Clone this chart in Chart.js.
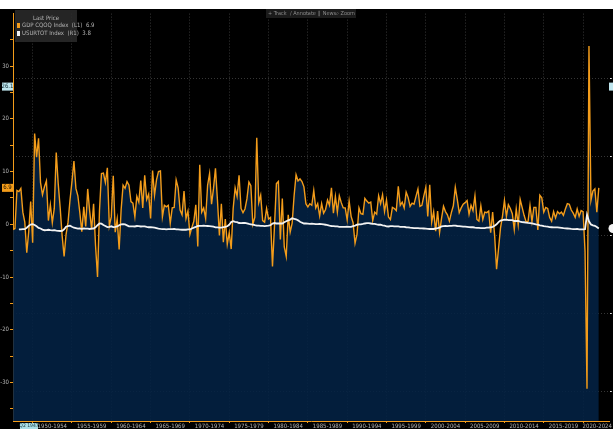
<!DOCTYPE html>
<html>
<head>
<meta charset="utf-8">
<script src="https://cdn.jsdelivr.net/npm/chart.js@4.4.1/dist/chart.umd.min.js"></script>
<style>
  html, body { margin: 0; padding: 0; background: #fff; }
  #wrap { position: absolute; left: 0; top: 9px; width: 613px; height: 420px; background: #000; }
</style>
</head>
<body>
<div id="wrap"><canvas id="gdpChart" width="613" height="420"></canvas></div>
<script>
// US real GDP, QoQ annualised %, one row per year (1947 starts at Q2)
const gdpStart = '1947Q2';
const gdpQoQ = [
    -1.0, -0.8, 6.4,
    6.2, 6.8, 2.3, 0.4,
    -5.4, -1.4, 4.3, -3.5,
    17.2, 12.7, 16.3, 7.9,
    5.6, 7.1, 8.2, 0.7,
    3.7, 0.3, 3.0, 13.6,
    7.7, 3.1, -2.2, -6.1,
    -1.9, 0.4, 4.6, 8.1,
    12.0, 6.8, 5.4, 2.2,
    -1.4, 3.3, -0.4, 6.7,
    2.5, -1.0, 3.9, -4.1,
    -10.0, 2.6, 9.6, 9.7,
    7.9, 10.7, -0.3, 1.4,
    9.2, -1.5, 1.0, -4.8,
    2.7, 7.4, 6.8, 8.1,
    7.4, 4.3, 4.0, 1.4,
    5.3, 4.2, 8.3, 3.1,
    9.3, 4.7, 5.7, 1.1,
    10.2, 5.5, 8.4, 10.0,
    10.1, 1.4, 3.6, 3.3,
    3.6, 0.2, 3.1, 3.2,
    8.4, 6.9, 2.7, 1.8,
    6.3, 1.1, 2.5, -1.9,
    -0.6, 0.6, 3.7, -4.2,
    11.3, 2.3, 3.1, 1.1,
    7.4, 9.6, 3.8, 6.8,
    10.6, 4.6, -2.1, 3.9,
    -3.4, 1.0, -3.8, -1.6,
    -4.7, 3.0, 6.9, 5.3,
    9.3, 3.0, 2.2, 2.9,
    4.8, 8.0, 7.3, 0.0,
    1.3, 16.4, 4.1, 5.5,
    0.7, 0.4, 3.0, 1.0,
    1.3, -8.0, -0.5, 7.7,
    8.1, -2.9, 4.9, -4.3,
    -6.1, 1.8, -1.5, 0.2,
    5.4, 9.4, 8.2, 8.6,
    8.1, 7.1, 3.9, 3.3,
    3.9, 3.6, 6.4, 3.1,
    3.9, 1.6, 3.9, 2.1,
    2.8, 4.6, 3.6, 6.9,
    2.1, 5.3, 2.3, 5.4,
    4.1, 3.1, 3.1, 0.8,
    4.4, 1.5, 0.3, -3.6,
    -1.9, 3.1, 2.0, 1.9,
    4.9, 4.4, 4.0, 4.2,
    0.7, 2.3, 1.9, 5.4,
    3.9, 5.6, 2.4, 4.6,
    1.4, 0.9, 3.2, 3.0,
    2.6, 7.2, 3.6, 4.2,
    3.1, 6.1, 5.1, 3.4,
    4.0, 3.8, 5.3, 6.7,
    3.4, 3.6, 5.4, 7.0,
    1.5, 7.5, 0.4, 2.4,
    -1.3, 2.5, -1.6, 1.1,
    3.4, 2.4, 1.8, 0.6,
    2.2, 3.5, 7.0, 4.7,
    2.2, 3.1, 3.8, 4.1,
    4.5, 1.9, 3.6, 2.6,
    5.4, 0.9, 0.6, 3.5,
    0.9, 2.3, 2.2, 2.5,
    -1.6, 2.3, -2.1, -8.5,
    -4.6, -0.7, 1.5, 4.5,
    1.5, 3.7, 3.0, 2.0,
    -1.0, 2.9, -0.1, 4.7,
    3.2, 1.7, 0.5, 0.5,
    3.6, 0.5, 3.2, 3.2,
    -1.1, 5.5, 5.0, 2.3,
    3.2, 3.0, 1.3, 0.6,
    2.4, 1.2, 2.4, 2.0,
    2.3, 1.7, 2.9, 3.9,
    3.8, 2.7, 2.1, 1.3,
    2.9, 1.5, 2.6, 2.4,
    -5.1, -31.2, 33.8, 4.5,
    6.3, 6.7, 2.3, 6.9
];

// US unemployment rate, quarterly average %, from 1948 Q1
const unempStart = '1948Q1';
const unempRate = [
    3.7, 3.7, 3.8, 3.8,
    4.7, 5.9, 6.7, 7.0,
    6.4, 5.6, 4.6, 4.2,
    3.5, 3.1, 3.2, 3.4,
    3.1, 3.0, 3.2, 2.8,
    2.7, 2.6, 2.7, 3.7,
    5.3, 5.8, 6.0, 5.3,
    4.7, 4.4, 4.1, 4.2,
    4.0, 4.2, 4.1, 4.1,
    3.9, 4.1, 4.2, 4.9,
    6.3, 7.4, 7.3, 6.4,
    5.8, 5.1, 5.3, 5.6,
    5.1, 5.2, 5.5, 6.3,
    6.8, 7.0, 6.8, 6.2,
    5.6, 5.5, 5.6, 5.5,
    5.8, 5.7, 5.5, 5.6,
    5.5, 5.2, 5.0, 5.0,
    4.9, 4.7, 4.4, 4.1,
    3.9, 3.8, 3.8, 3.7,
    3.8, 3.8, 3.8, 3.9,
    3.7, 3.6, 3.5, 3.4,
    3.4, 3.4, 3.6, 3.6,
    4.2, 4.8, 5.2, 5.8,
    5.9, 5.9, 6.0, 5.9,
    5.8, 5.7, 5.6, 5.4,
    4.9, 4.9, 4.8, 4.8,
    5.1, 5.2, 5.6, 6.6,
    8.3, 8.9, 8.5, 8.3,
    7.7, 7.6, 7.7, 7.8,
    7.5, 7.1, 6.9, 6.7,
    6.3, 6.0, 6.0, 5.9,
    5.9, 5.7, 5.9, 6.0,
    6.3, 7.3, 7.7, 7.4,
    7.4, 7.4, 7.4, 8.2,
    8.8, 9.4, 9.9, 10.7,
    10.4, 10.1, 9.4, 8.5,
    7.9, 7.4, 7.4, 7.3,
    7.2, 7.3, 7.2, 7.0,
    7.0, 7.2, 7.0, 6.8,
    6.6, 6.3, 6.0, 5.8,
    5.7, 5.5, 5.5, 5.3,
    5.2, 5.2, 5.2, 5.4,
    5.3, 5.3, 5.7, 6.1,
    6.6, 6.8, 6.9, 7.1,
    7.4, 7.6, 7.6, 7.4,
    7.2, 7.1, 6.8, 6.6,
    6.6, 6.2, 6.0, 5.6,
    5.5, 5.7, 5.7, 5.6,
    5.5, 5.5, 5.3, 5.3,
    5.2, 5.0, 4.9, 4.7,
    4.6, 4.4, 4.5, 4.4,
    4.3, 4.3, 4.2, 4.1,
    4.0, 3.9, 4.0, 3.9,
    4.2, 4.4, 4.8, 5.5,
    5.7, 5.8, 5.7, 5.9,
    5.9, 6.1, 6.1, 5.8,
    5.7, 5.6, 5.4, 5.4,
    5.3, 5.1, 5.0, 5.0,
    4.7, 4.6, 4.6, 4.4,
    4.5, 4.5, 4.7, 4.8,
    5.0, 5.3, 6.0, 6.9,
    8.3, 9.3, 9.6, 9.9,
    9.8, 9.6, 9.5, 9.5,
    9.0, 9.1, 9.0, 8.6,
    8.3, 8.2, 8.0, 7.8,
    7.7, 7.5, 7.2, 6.9,
    6.7, 6.2, 6.1, 5.7,
    5.5, 5.4, 5.1, 5.0,
    4.9, 4.9, 4.9, 4.8,
    4.6, 4.4, 4.3, 4.2,
    4.1, 3.9, 3.8, 3.8,
    3.9, 3.6, 3.6, 3.6,
    3.8, 13.0, 8.8, 6.8,
    6.2, 5.9, 5.1, 4.2
];

const periodTicks = [1950, 1955, 1960, 1965, 1970, 1975, 1980, 1985, 1990, 1995, 2000, 2005, 2010, 2015, 2020];
const periodLabels = ['1950-1954', '1955-1959', '1960-1964', '1965-1969', '1970-1974', '1975-1979', '1980-1984',
    '1985-1989', '1990-1994', '1995-1999', '2000-2004', '2005-2009', '2010-2014', '2015-2019', '2020-2024'];
const periodLabelAt = [1952.5, 1957.5, 1962.5, 1967.5, 1972.5, 1977.5, 1982.5,
    1987.5, 1992.5, 1997.5, 2002.5, 2007.5, 2012.5, 2017.5, 2021.8];
const leftTicks = [-35, -30, -25, -20, -15, -10, -5, 0, 5, 10, 15, 20, 25, 30, 35];
const rightTicks = [-100, -50, 0, 50, 100];

const FONT = "'Liberation Sans Narrow', 'DejaVu Sans Condensed', sans-serif";
const ORANGE = '#f39c1a';
const GRID = '#363636';
const TXT = '#b4b4b4';

// quarter end as decimal year: 1947Q2 -> 1947.5
function quarterX(start, i) {
    const yr = parseInt(start.slice(0, 4), 10);
    const q = parseInt(start.slice(5), 10);
    return yr + (q + i) / 4;
}

const overlay = {
    id: 'overlay',
    afterDraw(chart) {
        const { ctx, scales } = chart;
        const y = scales.y;
        ctx.save();
        ctx.font = `6px ${FONT}`;
        ctx.textBaseline = 'middle';

        // legend box
        ctx.fillStyle = 'rgba(44,44,44,0.85)';
        ctx.fillRect(15, 1, 62, 32);
        ctx.fillStyle = TXT;
        ctx.textAlign = 'center';
        ctx.fillText('Last Price', 46, 9);
        ctx.textAlign = 'left';
        ctx.fillStyle = ORANGE;
        ctx.fillRect(17, 14, 3, 5);
        ctx.fillStyle = '#f2f2f2';
        ctx.fillRect(17, 22, 3, 5);
        ctx.fillStyle = TXT;
        ctx.fillText('GDP CQOQ Index  (L1)  ' + gdpQoQ[gdpQoQ.length - 1].toFixed(1), 22, 16.5);
        ctx.fillText('USURTOT Index  (R1)  3.8', 22, 24.5);

        // toolbar
        ctx.fillStyle = '#1b1b1b';
        ctx.fillRect(266, 0, 90, 9);
        ctx.fillStyle = '#8c8c8c';
        ctx.font = `5.5px ${FONT}`;
        ctx.fillText('+ Track', 268, 4.5);
        ctx.fillText('\u2215 Annotate', 290, 4.5);
        ctx.fillText('\u2759 News', 317, 4.5);
        ctx.fillText('\u2315 Zoom', 336, 4.5);

        // value tags on the left axis
        ctx.font = `6px ${FONT}`;
        ctx.textAlign = 'center';
        const lastY = y.getPixelForValue(gdpQoQ[gdpQoQ.length - 1]);
        ctx.fillStyle = ORANGE;
        ctx.fillRect(2, lastY - 4, 11, 8);
        ctx.fillStyle = '#1a1000';
        ctx.fillText(gdpQoQ[gdpQoQ.length - 1].toFixed(1), 7.5, lastY);

        const hiY = y.getPixelForValue(26.1);
        ctx.fillStyle = '#bfe6ee';
        ctx.fillRect(2, hiY - 4, 11, 8);
        ctx.fillRect(609, hiY - 4, 4, 8);
        ctx.fillStyle = '#0c2a33';
        ctx.fillText('26.1', 7.5, hiY);

        // current value marker on the right axis
        const uY = scales.y1.getPixelForValue(unempRate[unempRate.length - 1]);
        ctx.fillStyle = '#f4f4f4';
        ctx.beginPath();
        ctx.arc(613, uY, 4.5, 0, Math.PI * 2);
        ctx.fill();

        // start date box
        ctx.fillStyle = '#a9dde6';
        ctx.fillRect(20, 414, 18, 6);
        ctx.fillStyle = '#20434a';
        ctx.font = `5px ${FONT}`;
        ctx.fillText('Q2 1947', 29, 417);
        ctx.restore();
    }
};

new Chart(document.getElementById('gdpChart'), {
    type: 'line',
    data: {
        datasets: [
            {
                label: 'GDP CQOQ Index',
                data: gdpQoQ.map((v, i) => ({ x: quarterX(gdpStart, i), y: v })),
                xAxisID: 'x', yAxisID: 'y',
                borderColor: ORANGE, borderWidth: 1.4,
                backgroundColor: 'rgba(3,34,68,0.88)', fill: 'start',
                pointRadius: 0, tension: 0, order: 2
            },
            {
                label: 'USURTOT Index',
                data: unempRate.map((v, i) => ({ x: quarterX(unempStart, i), y: v })),
                xAxisID: 'x', yAxisID: 'y1',
                borderColor: '#f2f2f2', borderWidth: 1.8,
                fill: false, pointRadius: 0, tension: 0, order: 1
            }
        ]
    },
    options: {
        responsive: false, animation: false,
        layout: { padding: 0 },
        plugins: { legend: { display: false }, tooltip: { enabled: false } },
        scales: {
            x: {
                type: 'linear', axis: 'x', position: 'bottom', min: 1947.5, max: 2023.4,
                afterBuildTicks: s => { s.ticks = periodTicks.map(v => ({ value: v })); },
                afterFit: s => { s.height = 1; },
                grid: { color: GRID, lineWidth: 1, drawTicks: true, tickLength: 2, tickColor: ORANGE },
                border: { display: true, color: ORANGE, width: 1, dash: [1, 2] },
                ticks: { display: false }
            },
            xLab: {
                type: 'linear', axis: 'x', position: 'bottom', min: 1947.5, max: 2023.4,
                afterBuildTicks: s => { s.ticks = periodLabelAt.map(v => ({ value: v })); },
                afterFit: s => { s.height = 7; },
                grid: { display: false, drawTicks: false, tickLength: 0 },
                border: { display: false },
                ticks: {
                    color: TXT, font: { family: FONT, size: 6 }, padding: 1,
                    maxRotation: 0, autoSkip: false,
                    callback: (v, i) => periodLabels[i]
                }
            },
            y: {
                type: 'linear', position: 'left', min: -37.3, max: 39.94,
                afterBuildTicks: s => { s.ticks = leftTicks.map(v => ({ value: v })); },
                afterFit: s => { s.width = 13; },
                grid: { drawOnChartArea: false, drawTicks: true, tickLength: 3, tickColor: ORANGE },
                border: { display: true, color: ORANGE, width: 1 },
                ticks: {
                    color: TXT, font: { family: FONT, size: 6 }, padding: 1,
                    callback: v => (v % 10 === 0 ? v : '')
                }
            },
            y1: {
                type: 'linear', position: 'right', min: -118.6, max: 141.3,
                afterBuildTicks: s => { s.ticks = rightTicks.map(v => ({ value: v })); },
                afterFit: s => { s.width = 2; },
                grid: { color: GRID, lineWidth: 1, drawTicks: true, tickLength: 2, tickColor: '#dddddd' },
                border: { display: false, dash: [1, 2] },
                ticks: { display: false }
            }
        }
    },
    plugins: [overlay]
});
</script>
</body>
</html>
